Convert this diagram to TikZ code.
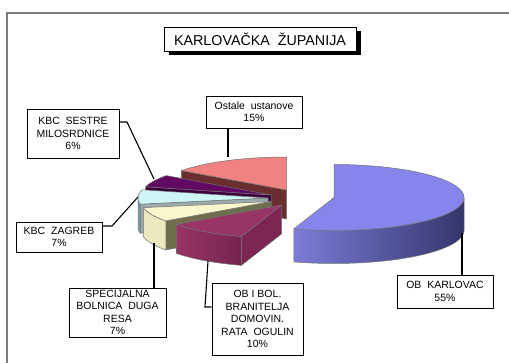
\documentclass[tikz,border=0pt]{standalone}
\usepackage{fontspec}
\setmainfont{Liberation Sans}
\usetikzlibrary{shadows}
\definecolor{ostTop}{HTML}{F08282}
\definecolor{ostRad}{HTML}{6B2E2E}
\definecolor{sesTop}{HTML}{620A62}
\definecolor{sesRad}{HTML}{3D003D}
\definecolor{zagTop}{HTML}{CDF5F5}
\definecolor{zagSide}{HTML}{78A2AC}
\definecolor{zagRad}{HTML}{9BAAAA}
\definecolor{spTop}{HTML}{F9F6CE}
\definecolor{spSide}{HTML}{EDE9BE}
\definecolor{spRad}{HTML}{6E6E4E}
\definecolor{bolTop}{HTML}{983466}
\definecolor{bolSide}{HTML}{8A2B5C}
\definecolor{bolRad}{HTML}{7E2652}
\definecolor{karTop}{HTML}{8585EC}
\definecolor{karSideL}{HTML}{7C7CD8}
\definecolor{karSideR}{HTML}{35356C}
\definecolor{frameGray}{HTML}{7A7A7A}
\def\RX{130}
\def\RY{33}
\begin{document}
\begin{tikzpicture}[x=1pt,y=-1pt,
  pie/.style={draw=black!55,line width=0.5pt,line join=round},
  lbl/.style={draw=black,line width=0.7pt,fill=white,inner sep=0pt,align=center,
    font=\fontsize{10.5}{12.4}\selectfont},
  conn/.style={draw=black,line width=1.1pt},
  framestyle/.style={draw=frameGray,line width=1.5pt}]
\useasboundingbox (0,0) rectangle (509,363);
\fill[white] (0,0) rectangle (509,363);
\draw[framestyle] (7,363) -- (7,13) -- (509,13);

% Ostale ustanove 15%
\begin{scope}[shift={(286.5,190)}]
\filldraw[pie,fill=ostRad] (0,0) -- ({\RX*cos(144)},{-\RY*sin(144)}) -- ({\RX*cos(144)},{-\RY*sin(144)+29}) -- (0,29) -- cycle;
\filldraw[pie,fill=ostTop] (0,0) -- plot[domain=90:144,samples=30,variable=\t] ({\RX*cos(\t)},{-\RY*sin(\t)}) -- cycle;
\end{scope}

% KBC Sestre milosrdnice 6%
\begin{scope}[shift={(271.5,195)}]
\filldraw[pie,fill=sesRad] (0,0) -- ({\RX*cos(165.6)},{-\RY*sin(165.6)}) -- ({\RX*cos(165.6)},{-\RY*sin(165.6)+29}) -- (0,29) -- cycle;
\filldraw[pie,fill=sesTop] (0,0) -- plot[domain=144:165.6,samples=20,variable=\t] ({\RX*cos(\t)},{-\RY*sin(\t)}) -- cycle;
\end{scope}

% KBC Zagreb 7%
\begin{scope}[shift={(268,198)}]
\filldraw[pie,fill=zagRad] (0,0) -- ({\RX*cos(190.8)},{-\RY*sin(190.8)}) -- ({\RX*cos(190.8)},{-\RY*sin(190.8)+29}) -- (0,29) -- cycle;
\filldraw[pie,fill=zagSide] plot[domain=180:190.8,samples=15,variable=\t] ({\RX*cos(\t)},{-\RY*sin(\t)}) -- plot[domain=190.8:180,samples=15,variable=\t] ({\RX*cos(\t)},{-\RY*sin(\t)+29}) -- cycle;
\filldraw[pie,fill=zagTop] (0,0) -- plot[domain=165.6:190.8,samples=20,variable=\t] ({\RX*cos(\t)},{-\RY*sin(\t)}) -- cycle;
\end{scope}

% Specijalna bolnica Duga Resa 7%
\begin{scope}[shift={(271,201.5)}]
\filldraw[pie,fill=spRad] (0,0) -- ({\RX*cos(216)},{-\RY*sin(216)}) -- ({\RX*cos(216)},{-\RY*sin(216)+29}) -- (0,29) -- cycle;
\filldraw[pie,fill=spSide] plot[domain=190.8:216,samples=20,variable=\t] ({\RX*cos(\t)},{-\RY*sin(\t)}) -- plot[domain=216:190.8,samples=20,variable=\t] ({\RX*cos(\t)},{-\RY*sin(\t)+29}) -- cycle;
\filldraw[pie,fill=spTop] (0,0) -- plot[domain=190.8:216,samples=20,variable=\t] ({\RX*cos(\t)},{-\RY*sin(\t)}) -- cycle;
\end{scope}

% OB i Bol. branitelja 10%
\begin{scope}[shift={(281.5,205)}]
\filldraw[pie,fill=bolRad] (0,0) -- ({\RX*cos(252)},{-\RY*sin(252)}) -- ({\RX*cos(252)},{-\RY*sin(252)+29}) -- (0,29) -- cycle;
\shadedraw[pie,left color=bolTop,right color=bolSide!85!black] plot[domain=216:252,samples=25,variable=\t] ({\RX*cos(\t)},{-\RY*sin(\t)}) -- plot[domain=252:216,samples=25,variable=\t] ({\RX*cos(\t)},{-\RY*sin(\t)+29}) -- cycle;
\filldraw[pie,fill=bolTop] (0,0) -- plot[domain=216:252,samples=25,variable=\t] ({\RX*cos(\t)},{-\RY*sin(\t)}) -- cycle;
\end{scope}

% OB Karlovac 55%
\begin{scope}[shift={(334,197.5)}]
\shadedraw[pie,left color=karSideL,right color=karSideR] plot[domain=-108:0,samples=50,variable=\t] ({\RX*cos(\t)},{-\RY*sin(\t)}) -- plot[domain=0:-108,samples=50,variable=\t] ({\RX*cos(\t)},{-\RY*sin(\t)+33}) -- cycle;
\filldraw[pie,fill=karTop] (0,0) -- plot[domain=-108:90,samples=80,variable=\t] ({\RX*cos(\t)},{-\RY*sin(\t)}) -- cycle;
\end{scope}

% Title
\node[draw=black,line width=0.8pt,fill=white,inner sep=0pt,minimum width=192pt,minimum height=24pt,
  font=\fontsize{14.3}{16}\selectfont,
  drop shadow={shadow xshift=5pt,shadow yshift=-4pt,opacity=1,fill=black}]
  (title) at (260,39) {KARLOVAČKA\ \ ŽUPANIJA};

% Labels
\node[lbl,minimum width=96pt,minimum height=32pt] (ostale) at (254,112) {Ostale\ \ ustanove\\15\%};
\node[lbl,minimum width=92pt,minimum height=49pt] (sestre) at (73,133.5) {KBC\ \ SESTRE\\MILOSRDNICE\\6\%};
\node[lbl,minimum width=86pt,minimum height=30pt] (zagreb) at (59,237) {KBC\ \ ZAGREB\\7\%};
\node[lbl,minimum width=97pt,minimum height=49pt] (spec) at (117.5,312.5) {SPECIJALNA\\BOLNICA\ \ DUGA\\RESA\\7\%};
\node[lbl,minimum width=91pt,minimum height=72pt] (bol) at (257.5,319) {OB I BOL.\\BRANITELJA\\DOMOVIN.\\RATA\ \ OGULIN\\10\%};
\node[lbl,minimum width=96pt,minimum height=33pt] (karl) at (445,291.5) {OB\ \ KARLOVAC\\55\%};

% Connectors
\coordinate (oE) at (228,157);
\draw[conn] (ostale.south -| oE) -- (oE);
\coordinate (s1) at (127,122);
\coordinate (sE) at (154,179);
\draw[conn] (s1 -| sestre.east) -- (s1) -- (sE);
\coordinate (z1) at (112,226);
\coordinate (zE) at (138,197);
\draw[conn] (z1 -| zagreb.east) -- (z1) -- (zE);
\coordinate (spE) at (154,243);
\draw[conn] (spec.north -| spE) -- (spE);
\coordinate (b1) at (205,307);
\coordinate (bE) at (208,261);
\draw[conn] (b1 -| bol.west) -- (b1) -- (bE);
\coordinate (kE) at (462,233);
\draw[conn] (karl.north -| kE) -- (kE);
\end{tikzpicture}
\end{document}
